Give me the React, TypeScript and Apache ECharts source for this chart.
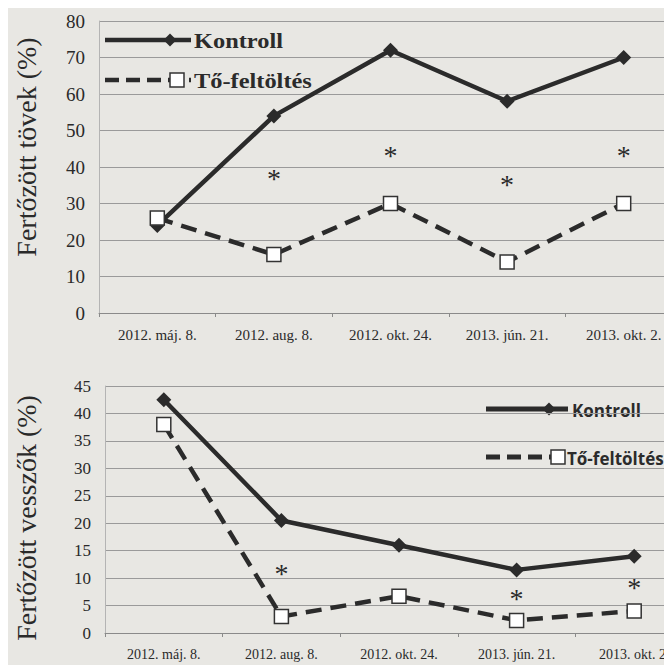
import React, { useEffect, useRef } from "react";
import * as echarts from "echarts";

const categories = ["2012. máj. 8.", "2012. aug. 8.", "2012. okt. 24.", "2013. jún. 21.", "2013. okt. 2."];

// Top chart: Fertőzött tövek (%)
const topKontroll = [24, 54, 72, 58, 70];
const topFeltoltes = [26, 16, 30, 14, 30];
const topStars = [null, 38.4, 44.7, 36.8, 44.7];
const topTicks = { min: 0, max: 80, interval: 10 };

// Bottom chart: Fertőzött vesszők (%)
const botKontroll = [42.5, 20.5, 16, 11.5, 14];
const botFeltoltes = [38, 3, 6.7, 2.3, 4];
const botStars = [null, 11.9, null, 7.3, 9.4];
const botTicks = { min: 0, max: 45, interval: 5 };

const seriesNames = ["Kontroll", "Tő-feltöltés"];
const titles = ["Fertőzött tövek (%)", "Fertőzött vesszők (%)"];

const INK = "#2b2b2b";
const TXT = "#2a2a2a";
const GRID = "#9a9a9a";

function axisPair(idx: number, ticks: { min: number; max: number; interval: number }, xFont: number, yFont: number) {
  return {
    x: {
      type: "category",
      gridIndex: idx,
      data: categories,
      boundaryGap: true,
      axisLine: { show: true, lineStyle: { color: "#8a8a8a", width: 1 } },
      axisTick: { show: true, length: 4, lineStyle: { color: "#8a8a8a" } },
      splitLine: { show: false },
      axisLabel: { interval: 0, margin: 14, fontFamily: "Liberation Serif", fontSize: xFont, color: TXT },
    },
    y: {
      type: "value",
      gridIndex: idx,
      min: ticks.min,
      max: ticks.max,
      interval: ticks.interval,
      axisLine: { show: true, lineStyle: { color: "#b4b4b4", width: 1 } },
      axisTick: { show: false },
      splitLine: { show: true, lineStyle: { color: GRID, width: 1 } },
      axisLabel: { margin: 14, fontFamily: "Liberation Serif", fontSize: yFont, color: TXT },
    },
  };
}

function lineSeries(idx: number, kontroll: number[], felt: number[], stars: (number | null)[]) {
  return [
    {
      type: "line",
      name: seriesNames[0],
      xAxisIndex: idx,
      yAxisIndex: idx,
      data: kontroll,
      symbol: "diamond",
      symbolSize: 15,
      lineStyle: { color: INK, width: 4.5 },
      itemStyle: { color: INK },
      z: 3,
    },
    {
      type: "line",
      name: seriesNames[1],
      xAxisIndex: idx,
      yAxisIndex: idx,
      data: felt,
      symbol: "rect",
      symbolSize: 14,
      lineStyle: { color: INK, width: 4.5, type: [16, 9], cap: "butt" },
      itemStyle: { color: "#ffffff", borderColor: "#333333", borderWidth: 1.5 },
      z: 4,
    },
    {
      type: "scatter",
      xAxisIndex: idx,
      yAxisIndex: idx,
      data: stars,
      symbol: "circle",
      symbolSize: 0.1,
      itemStyle: { color: "#2a2a2a", opacity: 1 },
      label: {
        show: true,
        position: "inside",
        formatter: "*",
        fontFamily: "Liberation Serif",
        fontSize: 28,
        color: "#2a2a2a",
        textBorderWidth: 0,
        offset: [0, 6],
      },
      z: 5,
    },
  ];
}

function legendGraphics(
  x0: number,
  x1: number,
  yK: number,
  yT: number,
  diamondX: number,
  squareX: number,
  textXK: number,
  textXT: number,
  font: string,
  fontSize: number,
  scaleX: number,
  lw: number
) {
  const d = 6.5;
  return [
    { type: "line", shape: { x1: x0, y1: yK, x2: x1, y2: yK }, style: { stroke: INK, lineWidth: lw } },
    {
      type: "polygon",
      shape: { points: [[diamondX, yK - d], [diamondX + d, yK], [diamondX, yK + d], [diamondX - d, yK]] },
      style: { fill: INK },
    },
    {
      type: "text",
      x: textXK,
      y: yK + 1,
      scaleX,
      style: { text: seriesNames[0], fontFamily: font, fontSize, fontWeight: "bold", fill: INK, align: "left", verticalAlign: "middle" },
    },
    { type: "line", shape: { x1: x0, y1: yT, x2: x1, y2: yT }, style: { stroke: INK, lineWidth: lw, lineDash: [14, 7] } },
    {
      type: "rect",
      shape: { x: squareX - 7, y: yT - 7, width: 14, height: 14 },
      style: { fill: "#ffffff", stroke: "#333333", lineWidth: 1.5 },
    },
    {
      type: "text",
      x: textXT,
      y: yT + 1,
      scaleX,
      style: { text: seriesNames[1], fontFamily: font, fontSize, fontWeight: "bold", fill: INK, align: "left", verticalAlign: "middle" },
    },
  ];
}

function titleText(text: string, x: number, y: number) {
  return {
    type: "text",
    x,
    y,
    rotation: Math.PI / 2,
    style: { text, fontFamily: "Liberation Serif", fontSize: 28, fill: TXT, align: "center", verticalAlign: "middle" },
  };
}

export default function App() {
  const ref = useRef<HTMLDivElement>(null);
  useEffect(() => {
    if (!ref.current) return;
    const chart = echarts.init(ref.current, null, { renderer: "svg" });
    const a0 = axisPair(0, topTicks, 15, 19);
    const a1 = axisPair(1, botTicks, 14, 17);
    const option: any = {
      animation: false,
      backgroundColor: "#e8e7e3",
      tooltip: { show: false },
      grid: [
        { left: 91, top: 13, width: 583, height: 292, outerBoundsMode: "none" },
        { left: 97, top: 378, width: 588, height: 247, outerBoundsMode: "none" },
      ],
      xAxis: [a0.x, a1.x],
      yAxis: [a0.y, a1.y],
      series: [
        ...lineSeries(0, topKontroll, topFeltoltes, topStars),
        ...lineSeries(1, botKontroll, botFeltoltes, botStars),
      ],
      graphic: [
        titleText(titles[0], 18, 139),
        titleText(titles[1], 18, 510),
        ...legendGraphics(97, 183, 32, 72, 162, 169, 186, 186, "Liberation Serif", 20, 1.22, 4.5),
        ...legendGraphics(478, 560, 401, 449, 541, 550, 564, 559, "Open Sans", 17, 1.0, 5),
      ],
    };
    chart.setOption(option);
    return () => chart.dispose();
  }, []);
  return <div ref={ref} style={{ position: "fixed", left: 0, top: 0, width: 672, height: 665 }} />;
}
